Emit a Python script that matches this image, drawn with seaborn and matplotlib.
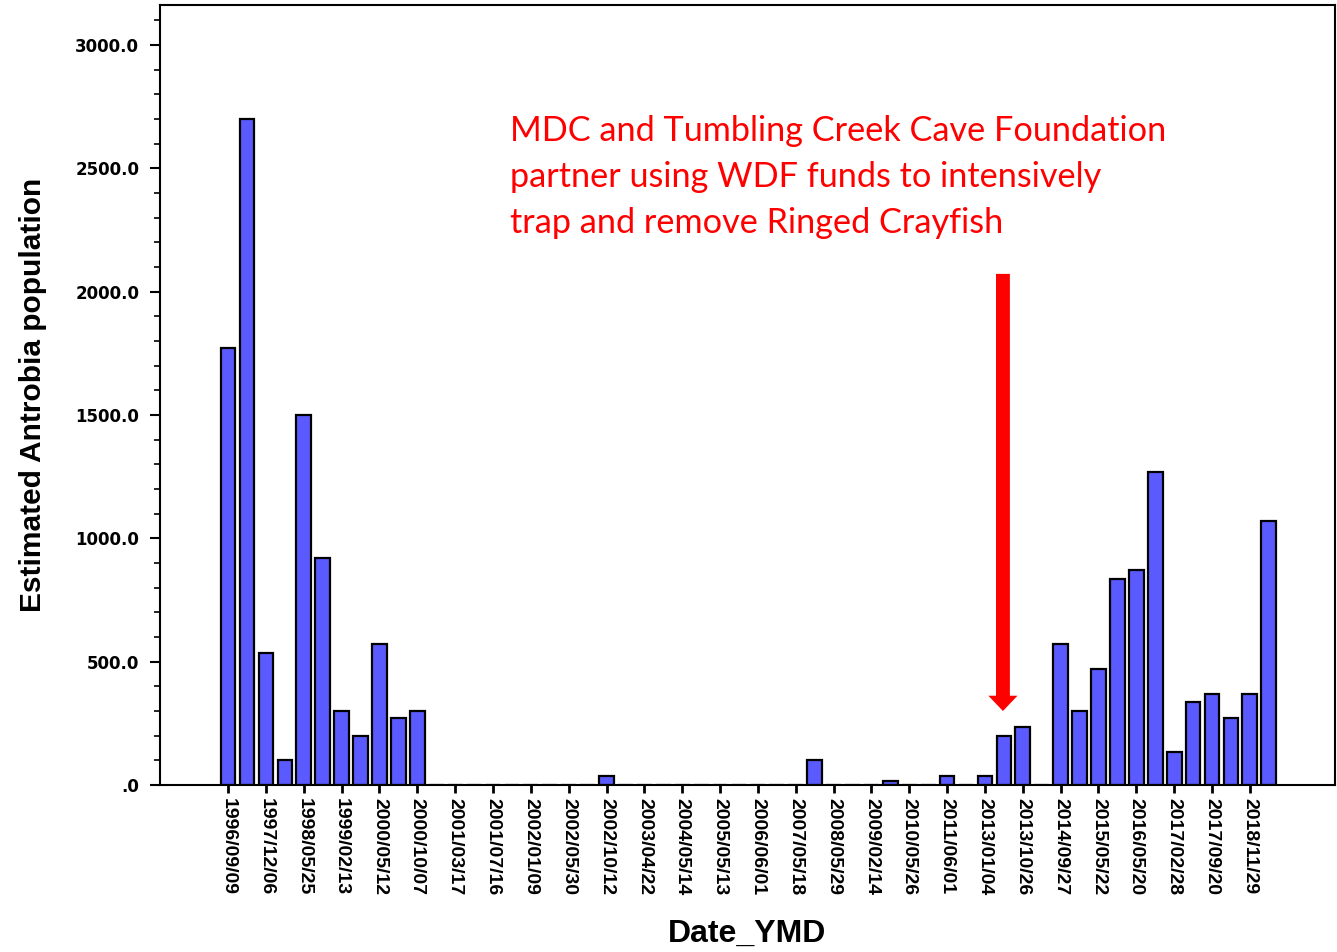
"""
Antrobia population estimates by survey date, with the crayfish removal note.
"""

import matplotlib

matplotlib.use("Agg")
import matplotlib.pyplot as plt
from matplotlib.ticker import FuncFormatter, MultipleLocator
import pandas as pd
import seaborn as sns

# every other survey carries a date label on the axis
date_labels = [
    "1996/09/09", "1997/12/06", "1998/05/25", "1999/02/13", "2000/05/12",
    "2000/10/07", "2001/03/17", "2001/07/16", "2002/01/09", "2002/05/30",
    "2002/10/12", "2003/04/22", "2004/05/14", "2005/05/13", "2006/06/01",
    "2007/05/18", "2008/05/29", "2009/02/14", "2010/05/26", "2011/06/01",
    "2013/01/04", "2013/10/26", "2014/09/27", "2015/05/22", "2016/05/20",
    "2017/02/28", "2017/09/20", "2018/11/29",
]

# one value per survey, in survey order
estimated_population = [
    1770, 2700, 535, 100, 1500, 920, 300, 200, 570, 270,
    300, 0, 0, 0, 0, 0, 0, 0, 0, 0,
    35, 0, 0, 0, 0, 0, 0, 0, 0, 0,
    0, 100, 0, 0, 0, 15, 0, 0, 35, 0,
    35, 200, 235, 0, 570, 300, 470, 835, 870, 1270,
    135, 335, 370, 270, 370, 1070,
]

note_lines = [
    "MDC and Tumbling Creek Cave Foundation",
    "partner using WDF funds to intensively",
    "trap and remove Ringed Crayfish",
]

surveys = pd.DataFrame(
    {
        "survey": list(range(len(estimated_population))),
        "population": estimated_population,
    }
)

sns.set_style("ticks")
plt.rcParams["font.family"] = ["Liberation Sans", "DejaVu Sans"]
plt.rcParams["text.color"] = "black"
plt.rcParams["axes.labelcolor"] = "black"
plt.rcParams["xtick.color"] = "black"
plt.rcParams["ytick.color"] = "black"

fig = plt.figure(figsize=(13.37, 9.52), dpi=100)
ax = fig.add_axes([160 / 1337, 1 - 785 / 952, 1175 / 1337, 780 / 952])

sns.barplot(
    data=surveys,
    x="survey",
    y="population",
    color="#5a5aff",
    saturation=1,
    edgecolor="black",
    linewidth=1.6,
    width=0.78,
    errorbar=None,
    ax=ax,
)

ax.set_xlim(-3.6, 58.5)
ax.set_ylim(0, 3162)

ax.set_xticks(range(0, 2 * len(date_labels), 2))
ax.set_xticklabels(date_labels, rotation=-90, fontsize=14, fontweight="bold")
ax.tick_params(axis="x", direction="out", length=6, width=2, pad=3)

ax.yaxis.set_major_locator(MultipleLocator(500))
ax.yaxis.set_minor_locator(MultipleLocator(100))
ax.yaxis.set_major_formatter(
    FuncFormatter(lambda v, _: f"{v:.1f}".lstrip("0") if v < 1 else f"{v:.1f}")
)
ax.tick_params(axis="y", which="major", direction="out", length=7, width=1.5,
               labelsize=12, pad=8)
ax.tick_params(axis="y", which="minor", direction="out", length=4, width=1.2)
plt.setp(ax.get_yticklabels(), fontweight="bold", fontfamily="DejaVu Sans")

for spine in ax.spines.values():
    spine.set_visible(True)
    spine.set_color("black")
    spine.set_linewidth(1.5)

ax.set_xlabel("Date_YMD", fontsize=23, fontweight="bold", labelpad=17)
ax.set_ylabel("Estimated Antrobia population", fontsize=21.5, fontweight="bold",
              labelpad=20)

fig.text(
    510 / 1337,
    1 - 115 / 952,
    "\n".join(note_lines),
    color="red",
    fontsize=24.7,
    fontfamily=["Lato", "DejaVu Sans"],
    va="top",
    ha="left",
    linespacing=1.53,
)

ax.annotate(
    "",
    xy=(40.95, 300),
    xytext=(40.95, 2072),
    arrowprops=dict(
        facecolor="red",
        edgecolor="none",
        width=10,
        headwidth=21,
        headlength=11,
        shrink=0,
    ),
)

fig.savefig("out.png", dpi=100)
plt.close(fig)
